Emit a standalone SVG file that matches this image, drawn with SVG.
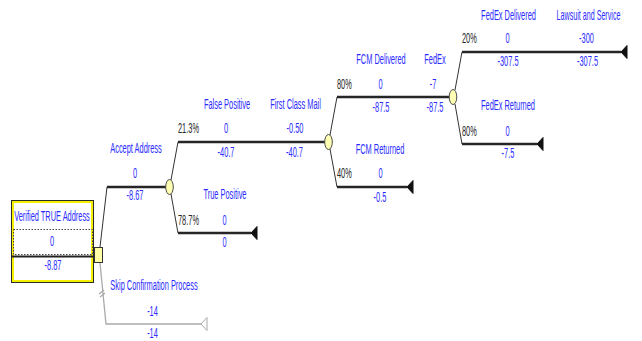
<svg xmlns="http://www.w3.org/2000/svg" width="642" height="341" viewBox="0 0 642 341">
<style>
text{font-family:"Liberation Sans",Arial,sans-serif;font-size:14px;}
.t{fill:#2b2bff;text-anchor:middle;}
.p{fill:#262626;text-anchor:start;}
.br{stroke:#262626;stroke-width:2.4;fill:none;}
.sl{stroke:#333;stroke-width:1;fill:none;}
.gr{stroke:#aaaaaa;stroke-width:1.3;fill:none;}
.chance{fill:#ffffb4;stroke:#4a4a4a;stroke-width:1;}
.term{fill:#111;stroke:#111;stroke-width:1;}
</style>
<rect width="642" height="341" fill="#ffffff"/>
<g id="connectors">
  <path class="sl" d="M100,247 L107,187"/>
  <path class="br" d="M107,187 H166"/>
  <path class="sl" d="M171,180 L178,142"/>
  <path class="sl" d="M171,194 L178,233"/>
  <path class="br" d="M178,142 H325"/>
  <path class="br" d="M178,233 H251"/>
  <path class="sl" d="M330,135 L337,97"/>
  <path class="sl" d="M330,149 L337,187"/>
  <path class="br" d="M337,97 H449"/>
  <path class="br" d="M337,187 H407"/>
  <path class="sl" d="M455,90 L462,52"/>
  <path class="sl" d="M455,104 L462,144"/>
  <path class="br" d="M462,52 H621"/>
  <path class="br" d="M462,144 H537"/>
  <path class="gr" d="M100,263 L106,324 H201"/>
  <path class="gr" d="M99,294 L104,290 M100,297 L105,293"/>
</g>
<g id="node-root">
  <rect x="11.5" y="200.5" width="82" height="82" fill="#f4f000" stroke="#2a2a2a" stroke-width="1"/>
  <rect x="14" y="203" width="77" height="77" fill="#ffffff"/>
  <rect x="13.5" y="229.5" width="79" height="25" fill="none" stroke="#444" stroke-width="1" stroke-dasharray="1.5,1.5"/>
  <line x1="11.5" y1="256.5" x2="93.5" y2="256.5" stroke="#222" stroke-width="2"/>
  <text class="t" transform="translate(52 221) scale(0.53 1)">Verified TRUE Address</text>
  <text class="t" transform="translate(52 246) scale(0.53 1)">0</text>
  <text class="t" transform="translate(53 270) scale(0.53 1)">-8.87</text>
</g>
<g id="node-decision">
  <rect x="94.5" y="247.5" width="8" height="15" fill="#ffffa8" stroke="#333" stroke-width="1"/>
</g>
<g id="node-chance-accept">
  <ellipse class="chance" cx="169.5" cy="187" rx="3.8" ry="7.5"/>
</g>
<g id="node-chance-fcm">
  <ellipse class="chance" cx="328.5" cy="142" rx="3.8" ry="7.5"/>
</g>
<g id="node-chance-fedex">
  <ellipse class="chance" cx="453" cy="97" rx="3.8" ry="7.5"/>
</g>
<g id="node-term-true-positive">
  <path class="term" d="M251,233 L257,226.5 L257,239.5 Z"/>
</g>
<g id="node-term-fcm-returned">
  <path class="term" d="M407,187 L413,180.5 L413,193.5 Z"/>
</g>
<g id="node-term-lawsuit">
  <path class="term" d="M621,52 L627,45.5 L627,58.5 Z"/>
</g>
<g id="node-term-fedex-returned">
  <path class="term" d="M537,144 L543,137.5 L543,150.5 Z"/>
</g>
<g id="node-term-skip">
  <path d="M201,324 L207,317.5 L207,330.5 Z" fill="#ffffff" stroke="#aaaaaa" stroke-width="1"/>
</g>
<g id="labels">
  <text class="t" transform="translate(136 153) scale(0.53 1)">Accept Address</text>
  <text class="t" transform="translate(135 178) scale(0.53 1)">0</text>
  <text class="t" transform="translate(135 200) scale(0.53 1)">-8.67</text>

  <text class="p" transform="translate(178 133) scale(0.53 1)">21.3%</text>
  <text class="t" transform="translate(227 109) scale(0.53 1)">False Positive</text>
  <text class="t" transform="translate(226 133) scale(0.53 1)">0</text>
  <text class="t" transform="translate(226 157) scale(0.53 1)">-40.7</text>

  <text class="t" transform="translate(295.5 109) scale(0.53 1)">First Class Mail</text>
  <text class="t" transform="translate(295 133) scale(0.53 1)">-0.50</text>
  <text class="t" transform="translate(294.5 157) scale(0.53 1)">-40.7</text>

  <text class="p" transform="translate(178 225) scale(0.53 1)">78.7%</text>
  <text class="t" transform="translate(225 199) scale(0.53 1)">True Positive</text>
  <text class="t" transform="translate(224.5 225) scale(0.53 1)">0</text>
  <text class="t" transform="translate(224.5 247) scale(0.53 1)">0</text>

  <text class="p" transform="translate(337 89) scale(0.53 1)">80%</text>
  <text class="t" transform="translate(381 64) scale(0.53 1)">FCM Delivered</text>
  <text class="t" transform="translate(380.5 89) scale(0.53 1)">0</text>
  <text class="t" transform="translate(381 112) scale(0.53 1)">-87.5</text>

  <text class="t" transform="translate(435 64) scale(0.53 1)">FedEx</text>
  <text class="t" transform="translate(433 89) scale(0.53 1)">-7</text>
  <text class="t" transform="translate(435 112) scale(0.53 1)">-87.5</text>

  <text class="p" transform="translate(337 178) scale(0.53 1)">40%</text>
  <text class="t" transform="translate(380 154) scale(0.53 1)">FCM Returned</text>
  <text class="t" transform="translate(380.5 178) scale(0.53 1)">0</text>
  <text class="t" transform="translate(380 202) scale(0.53 1)">-0.5</text>

  <text class="p" transform="translate(462 43) scale(0.53 1)">20%</text>
  <text class="t" transform="translate(508.5 20) scale(0.53 1)">FedEx Delivered</text>
  <text class="t" transform="translate(507.5 43) scale(0.53 1)">0</text>
  <text class="t" transform="translate(508 66) scale(0.53 1)">-307.5</text>

  <text class="t" transform="translate(588.5 20) scale(0.51 1)">Lawsuit and Service</text>
  <text class="t" transform="translate(586.5 43) scale(0.53 1)">-300</text>
  <text class="t" transform="translate(587.5 66) scale(0.53 1)">-307.5</text>

  <text class="p" transform="translate(462 136) scale(0.53 1)">80%</text>
  <text class="t" transform="translate(508 110) scale(0.53 1)">FedEx Returned</text>
  <text class="t" transform="translate(507.5 136) scale(0.53 1)">0</text>
  <text class="t" transform="translate(508 158) scale(0.53 1)">-7.5</text>

  <text class="t" transform="translate(154 290) scale(0.53 1)">Skip Confirmation Process</text>
  <text class="t" transform="translate(152.5 316) scale(0.53 1)">-14</text>
  <text class="t" transform="translate(152.5 338) scale(0.53 1)">-14</text>
</g>
</svg>
